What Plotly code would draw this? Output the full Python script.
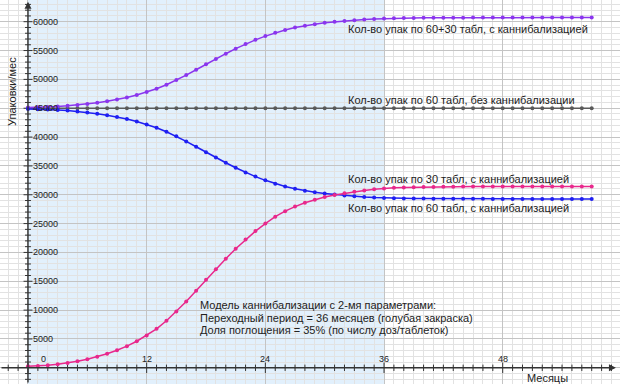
import plotly.graph_objects as go

# ---------------- data ----------------
months = list(range(58))

pack30 = [250, 320, 430, 600, 830, 1120, 1480, 1900, 2450, 3050,
          3750, 4600, 5600, 6750, 8150, 9750, 11500, 13350, 15250, 17100,
          18900, 20650, 22250, 23700, 25000, 26200, 27150, 27950, 28600, 29150,
          29600, 29950, 30250, 30500, 30750, 30950, 31100, 31200, 31260, 31300,
          31330, 31360, 31380, 31400, 31410, 31420, 31430, 31435, 31440, 31445,
          31450, 31450, 31450, 31450, 31450, 31450, 31450, 31450]

pack60_cann = [44875, 44840, 44785, 44700, 44585, 44440, 44260, 44050, 43775, 43475,
               43125, 42700, 42200, 41625, 40925, 40125, 39250, 38325, 37375, 36450,
               35550, 34675, 33875, 33150, 32500, 31900, 31425, 31025, 30700, 30425,
               30200, 30025, 29875, 29750, 29625, 29525, 29450, 29400, 29370, 29350,
               29335, 29320, 29310, 29300, 29295, 29290, 29285, 29283, 29280, 29278,
               29275, 29275, 29275, 29275, 29275, 29275, 29275, 29275]

pack60_30_cann = [45125, 45160, 45215, 45300, 45415, 45560, 45740, 45950, 46225, 46525,
                  46875, 47300, 47800, 48375, 49075, 49875, 50750, 51675, 52625, 53550,
                  54450, 55325, 56125, 56850, 57500, 58100, 58575, 58975, 59300, 59575,
                  59800, 59975, 60125, 60250, 60375, 60475, 60550, 60600, 60630, 60650,
                  60665, 60680, 60690, 60700, 60705, 60710, 60715, 60718, 60720, 60722,
                  60725, 60725, 60725, 60725, 60725, 60725, 60725, 60725]

pack60_base = [45000] * len(months)

series_names = ["Кол-во упак по 60+30 табл, с каннибализацией",
                "Кол-во упак по 60 табл, без каннибализации",
                "Кол-во упак по 30 табл, с каннибализацией",
                "Кол-во упак по 60 табл, с каннибализацией"]

x_tick_vals = [0, 12, 24, 36, 48]
x_tick_text = ["0", "12", "24", "36", "48"]
y_tick_vals = [5000, 10000, 15000, 20000, 25000, 30000, 35000, 40000, 45000, 50000, 55000, 60000]

model_lines = ["Модель каннибализации с 2-мя параметрами:",
               "Переходный период = 36 месяцев (голубая закраска)",
               "Доля поглощения = 35% (по числу доз/таблеток)"]

transition_months = 36

# ---------------- layout helpers ----------------
X_RANGE = [-2.83, 59.86]
Y_RANGE = [-2809, 63762]
FONT = "Liberation Sans, Arial, Helvetica, sans-serif"
TXT = "#222222"
AX = "#333333"

fig = go.Figure()

# shaded transition period
fig.add_shape(type="rect", xref="x", yref="paper", x0=0, x1=transition_months, y0=0, y1=1,
              fillcolor="#e2f0fc", line_width=0, layer="below")

# tick marks on the axes (crossing the axis lines)
tx, ty = [], []
for m in range(-2, 60):
    h = 550 if m % 12 else 900
    tx += [m, m, None]
    ty += [-h, h, None]
for v in range(-2000, 64000, 1000):
    if v == 0:
        continue
    w = 0.3 if v % 5000 else 0.45
    tx += [-w, w, None]
    ty += [v, v, None]
fig.add_trace(go.Scatter(x=tx, y=ty, mode="lines", line=dict(color=AX, width=1),
                         hoverinfo="skip", showlegend=False))

def add_series(y, color):
    fig.add_trace(go.Scatter(x=months, y=y, mode="lines+markers",
                             line=dict(color=color, width=1.5),
                             marker=dict(color=color, size=4),
                             showlegend=False))

add_series(pack60_base, "#5a5a5a")
add_series(pack60_30_cann, "#8a35ee")
add_series(pack60_cann, "#1f1ff2")
add_series(pack30, "#e8288c")

# axis lines with arrows
fig.add_annotation(x=0, y=63450, ax=0, ay=Y_RANGE[0], xref="x", yref="y", axref="x", ayref="y",
                   text="", showarrow=True, arrowhead=2, arrowsize=1, arrowwidth=1.4, arrowcolor=AX)
fig.add_annotation(x=59.45, y=0, ax=X_RANGE[0], ay=0, xref="x", yref="y", axref="x", ayref="y",
                   text="", showarrow=True, arrowhead=2, arrowsize=1, arrowwidth=1.4, arrowcolor=AX)

# tick labels
for v in y_tick_vals:
    fig.add_annotation(x=0.35, y=v, text=str(v), showarrow=False, xanchor="left", yanchor="middle",
                       font=dict(family=FONT, size=9, color=TXT))
for v, t in zip(x_tick_vals, x_tick_text):
    xv = 1.52 if v == 0 else v
    fig.add_annotation(x=xv, y=1526, text=t, showarrow=False, xanchor="center", yanchor="middle",
                       font=dict(family=FONT, size=9, color=TXT))

# axis titles
fig.add_annotation(x=-1.62, y=47990, text="Упаковки/мес", textangle=-90, showarrow=False,
                   font=dict(family=FONT, size=11, color=TXT))
fig.add_annotation(x=52.48, y=-1768, text="Месяцы", showarrow=False,
                   font=dict(family=FONT, size=11, color=TXT))

# series labels
for name, yv in zip(series_names, [58740, 46430, 32730, 27700]):
    fig.add_annotation(x=32.15, y=yv, text=name, showarrow=False, xanchor="left", yanchor="middle",
                       font=dict(family=FONT, size=11, color=TXT))

# model description
for line, yv in zip(model_lines, [10888, 8686, 6553]):
    fig.add_annotation(x=17.19, y=yv, text=line, showarrow=False, xanchor="left", yanchor="middle",
                       font=dict(family=FONT, size=11, color=TXT))

fig.update_layout(
    width=620, height=384,
    margin=dict(l=0, r=0, t=0, b=0),
    paper_bgcolor="white", plot_bgcolor="rgba(0,0,0,0)",
    xaxis=dict(range=X_RANGE, showticklabels=False, zeroline=False, showline=False,
               tick0=0, dtick=12, showgrid=True, gridcolor="#c4c4c4", gridwidth=1,
               minor=dict(tick0=0, dtick=1, showgrid=True, gridcolor="#e2e2e2", gridwidth=1)),
    yaxis=dict(range=Y_RANGE, showticklabels=False, zeroline=False, showline=False,
               tick0=0, dtick=5000, showgrid=True, gridcolor="#c4c4c4", gridwidth=1,
               minor=dict(tick0=0, dtick=1000, showgrid=True, gridcolor="#e2e2e2", gridwidth=1)),
    showlegend=False,
)

fig.write_html("out.html", config={"displayModeBar": False},
               post_script="document.body.style.margin='0';document.body.style.overflow='hidden';")
